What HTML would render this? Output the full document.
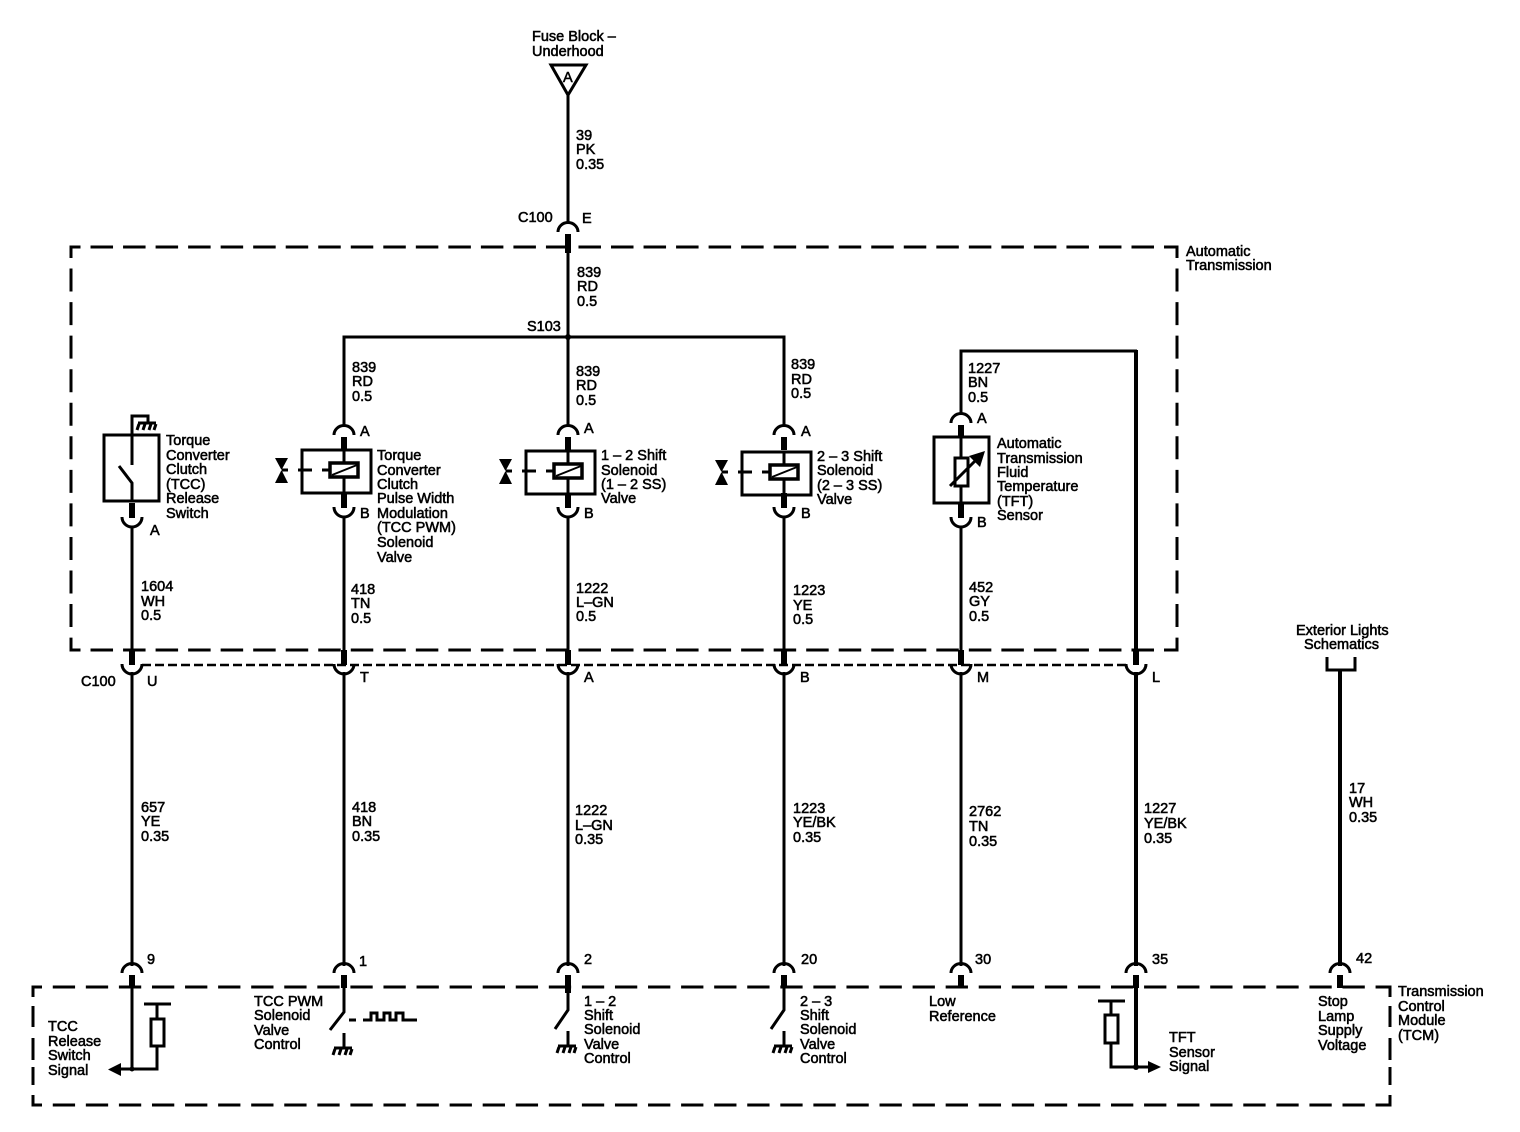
<!DOCTYPE html>
<html><head><meta charset="utf-8"><style>
html,body{margin:0;padding:0;background:#fff}
svg{display:block}
text{font-family:"Liberation Sans",sans-serif;font-size:14.5px;fill:#000;stroke:#000;stroke-width:.55}
.w{fill:none;stroke:#000;stroke-width:3}
.t{fill:none;stroke:#000;stroke-width:4}
.p{fill:none;stroke:#000;stroke-width:6}
.b{fill:none;stroke:#000;stroke-width:3}
.h{fill:none;stroke:#000;stroke-width:3;stroke-dasharray:22.5 10.03;stroke-dashoffset:11.5}
.h2{fill:none;stroke:#000;stroke-width:3;stroke-dasharray:22.3 10.77;stroke-dashoffset:11.8}
.v{fill:none;stroke:#000;stroke-width:3;stroke-dasharray:23 10.55;stroke-dashoffset:12}
</style></head><body>
<svg width="1520" height="1132" viewBox="0 0 1520 1132" xmlns="http://www.w3.org/2000/svg">
<defs>
<g id="u"><path class="w" d="M-10 9A10 9.5 0 0 1 10 9"/><path class="p" d="M0 11V24"/></g>
<g id="c"><path class="w" d="M-10 -1A10 10 0 0 0 10 -1"/><path class="p" d="M0 -15V0"/></g>
<g id="g"><path class="w" d="M-9 0H9" /><path d="M-8 1L-10 7M-2 1L-4 7M4 1L2 7M9 1L7 7" fill="none" stroke="#000" stroke-width="3"/></g>
<g id="s"><rect class="b" x="-42" y="-20" width="69" height="43"/>
<path class="w" d="M0 -20V-7M0 7V23"/>
<rect x="-14" y="-7" width="28" height="14" fill="#fff" stroke="#000" stroke-width="3.5"/><path d="M-12 5L13 -5" stroke="#000" stroke-width="2" fill="none"/>
<path class="w" d="M-46 0H-32M-22 0H-13"/><path d="M-69 -12H-56L-62.5 0L-56 13H-69L-62.5 0Z" fill="#000"/><path class="w" d="M-62 0H-56"/>
</g>
</defs>

<!-- dashed module boxes -->
<path class="h" d="M69.500 247H1178.500"/>
<path class="h" d="M69.500 650H1178.500"/>
<path class="v" d="M71 247V651.500"/>
<path class="v" d="M1177 247V651.500"/>
<path class="h2" d="M31.500 987H1391.500"/>
<path class="h2" d="M31.500 1105H1391.500"/>
<path class="w" d="M33 987V997M33 1006V1027M33 1038V1060M33 1067V1085M33 1095V1106.500"/>
<path class="w" d="M1390 987V997M1390 1006V1027M1390 1038V1060M1390 1067V1085M1390 1095V1106.500"/>
<path d="M142 665H1126" fill="none" stroke="#000" stroke-width="2.5" stroke-dasharray="9 4"/>

<!-- top feed -->
<path d="M551 65H586L568 95Z" fill="none" stroke="#000" stroke-width="3"/>
<path class="w" d="M568 95V222M568 246V337M344 425V337H784V425M568 337V425"/>
<circle cx="568" cy="337" r="3"/>
<use href="#u" x="568" y="223"/>
<path class="p" d="M568 234V253"/>

<!-- TFT loop -->
<path class="w" d="M961 414V351H1137"/>
<path class="t" d="M1136 350V655"/>

<!-- C100 lower wires -->
<path class="w" d="M132 526V653M344 517V653M568 517V653M784 517V653M961 526V653"/>
<path class="w" d="M132 672V966M344 672V966M568 672V966M784 672V966M961 672V966"/>
<path class="t" d="M1136 672V966M1340 670V966"/>
<path class="w" d="M1327 657V670H1355V657"/>

<use href="#c" x="132" y="665"/><use href="#c" x="344" y="665"/><use href="#c" x="568" y="665"/><use href="#c" x="784" y="665"/><use href="#c" x="961" y="665"/><use href="#c" x="1136" y="665"/>

<!-- TCC switch -->
<rect class="b" x="104" y="435" width="55" height="66"/>
<path class="w" d="M132 465V416H148V422"/>
<use href="#g" x="147" y="423"/>
<path class="w" d="M119 466L132 483V502"/>
<use href="#c" x="132" y="518"/>

<!-- Solenoids -->
<use href="#u" x="344" y="426"/><use href="#s" x="344" y="470"/><use href="#c" x="344" y="508"/>
<use href="#u" x="568" y="426"/><use href="#s" x="568" y="471"/><use href="#c" x="568" y="508"/>
<use href="#u" x="784" y="426"/><use href="#s" x="784" y="472"/><use href="#c" x="784" y="508"/>

<!-- TFT sensor -->
<use href="#u" x="961" y="414"/>
<rect class="b" x="934" y="437" width="55" height="66"/>
<path class="w" d="M961 437V504"/>
<rect x="955" y="458" width="13" height="28" fill="#fff" stroke="#000" stroke-width="3"/>
<path class="w" d="M950 486L978 458"/><path d="M985 451L980 467L969 456Z" fill="#000"/>
<use href="#c" x="961" y="518"/>

<!-- Bottom connectors -->
<use href="#u" x="132" y="964"/><use href="#u" x="344" y="964"/><use href="#u" x="568" y="964"/><use href="#u" x="784" y="964"/><use href="#u" x="961" y="964"/><use href="#u" x="1136" y="964"/><use href="#u" x="1340" y="964"/>

<!-- TCC release internal -->
<path class="w" d="M132 985V1069M120 1069H157V1047M157 1018V1004M144 1004H171"/>
<rect class="b" x="151" y="1019" width="13" height="27"/>
<path d="M108 1069.500L121 1063V1076Z" fill="#000"/><circle cx="132" cy="1069" r="2.5"/>

<!-- PWM driver -->
<path class="w" d="M344 985V1012L330 1030M344 1033V1047"/><use href="#g" x="343" y="1048"/>
<path class="w" d="M349 1020H356M363 1020H371V1013H377V1020H384V1013H390V1020H396V1013H403V1020H417"/>

<!-- 1-2 / 2-3 drivers -->
<path class="w" d="M568 985V1010L555 1029M568 1031V1047"/><use href="#g" x="567" y="1046"/>
<path class="p" d="M568 985V993"/>
<path class="w" d="M784 985V1010L771 1029M784 1031V1047"/><use href="#g" x="783" y="1046"/>

<!-- TFT signal -->
<path class="t" d="M1136 985V1067"/>
<path class="w" d="M1111 1043V1067H1150M1111 1015V1001M1098 1001H1125"/>
<rect class="b" x="1105" y="1015" width="13" height="28"/>
<path d="M1161 1067L1148 1061V1073Z" fill="#000"/><circle cx="1136" cy="1067" r="3"/>

<!-- Labels -->
<text x="532" y="41">Fuse Block –</text><text x="532" y="56">Underhood</text>
<text x="563" y="82">A</text>
<text x="576" y="140">39</text><text x="576" y="154">PK</text><text x="576" y="169">0.35</text>
<text x="518" y="222">C100</text><text x="582" y="223">E</text>
<text x="1186" y="256">Automatic</text><text x="1186" y="270">Transmission</text>
<text x="577" y="277">839</text><text x="577" y="291">RD</text><text x="577" y="306">0.5</text>
<text x="527" y="331">S103</text>
<text x="352" y="372">839</text><text x="352" y="386">RD</text><text x="352" y="401">0.5</text>
<text x="576" y="376">839</text><text x="576" y="390">RD</text><text x="576" y="405">0.5</text>
<text x="791" y="369">839</text><text x="791" y="384">RD</text><text x="791" y="398">0.5</text>
<text x="968" y="373">1227</text><text x="968" y="387">BN</text><text x="968" y="402">0.5</text>

<text x="360" y="436">A</text><text x="360" y="518">B</text>
<text x="584" y="433">A</text><text x="584" y="518">B</text>
<text x="801" y="436">A</text><text x="801" y="518">B</text>
<text x="977" y="423">A</text><text x="977" y="527">B</text>
<text x="150" y="535">A</text>

<text x="166" y="445">Torque</text><text x="166" y="460">Converter</text><text x="166" y="474">Clutch</text><text x="166" y="489">(TCC)</text><text x="166" y="503">Release</text><text x="166" y="518">Switch</text>
<text x="377" y="460">Torque</text><text x="377" y="475">Converter</text><text x="377" y="489">Clutch</text><text x="377" y="503">Pulse Width</text><text x="377" y="518">Modulation</text><text x="377" y="532">(TCC PWM)</text><text x="377" y="547">Solenoid</text><text x="377" y="562">Valve</text>
<text x="601" y="460">1 – 2 Shift</text><text x="601" y="475">Solenoid</text><text x="601" y="489">(1 – 2 SS)</text><text x="601" y="503">Valve</text>
<text x="817" y="461">2 – 3 Shift</text><text x="817" y="475">Solenoid</text><text x="817" y="490">(2 – 3 SS)</text><text x="817" y="504">Valve</text>
<text x="997" y="448">Automatic</text><text x="997" y="463">Transmission</text><text x="997" y="477">Fluid</text><text x="997" y="491">Temperature</text><text x="997" y="506">(TFT)</text><text x="997" y="520">Sensor</text>

<text x="141" y="591">1604</text><text x="141" y="606">WH</text><text x="141" y="620">0.5</text>
<text x="351" y="594">418</text><text x="351" y="608">TN</text><text x="351" y="623">0.5</text>
<text x="576" y="593">1222</text><text x="576" y="607">L–GN</text><text x="576" y="621">0.5</text>
<text x="793" y="595">1223</text><text x="793" y="610">YE</text><text x="793" y="624">0.5</text>
<text x="969" y="592">452</text><text x="969" y="606">GY</text><text x="969" y="621">0.5</text>

<text x="1296" y="635">Exterior Lights</text><text x="1304" y="649">Schematics</text>

<text x="81" y="686">C100</text><text x="147" y="686">U</text><text x="360" y="682">T</text><text x="584" y="682">A</text><text x="800" y="682">B</text><text x="977" y="682">M</text><text x="1152" y="682">L</text>

<text x="141" y="812">657</text><text x="141" y="826">YE</text><text x="141" y="841">0.35</text>
<text x="352" y="812">418</text><text x="352" y="826">BN</text><text x="352" y="841">0.35</text>
<text x="575" y="815">1222</text><text x="575" y="830">L–GN</text><text x="575" y="844">0.35</text>
<text x="793" y="813">1223</text><text x="793" y="827">YE/BK</text><text x="793" y="842">0.35</text>
<text x="969" y="816">2762</text><text x="969" y="831">TN</text><text x="969" y="846">0.35</text>
<text x="1144" y="813">1227</text><text x="1144" y="828">YE/BK</text><text x="1144" y="843">0.35</text>
<text x="1349" y="793">17</text><text x="1349" y="807">WH</text><text x="1349" y="822">0.35</text>

<text x="147" y="964">9</text><text x="359" y="966">1</text><text x="584" y="964">2</text><text x="801" y="964">20</text><text x="975" y="964">30</text><text x="1152" y="964">35</text><text x="1356" y="963">42</text>

<text x="1398" y="996">Transmission</text><text x="1398" y="1011">Control</text><text x="1398" y="1025">Module</text><text x="1398" y="1040">(TCM)</text>
<text x="1318" y="1006">Stop</text><text x="1318" y="1021">Lamp</text><text x="1318" y="1035">Supply</text><text x="1318" y="1050">Voltage</text>
<text x="254" y="1006">TCC PWM</text><text x="254" y="1020">Solenoid</text><text x="254" y="1035">Valve</text><text x="254" y="1049">Control</text>
<text x="584" y="1006">1 – 2</text><text x="584" y="1020">Shift</text><text x="584" y="1034">Solenoid</text><text x="584" y="1049">Valve</text><text x="584" y="1063">Control</text>
<text x="800" y="1006">2 – 3</text><text x="800" y="1020">Shift</text><text x="800" y="1034">Solenoid</text><text x="800" y="1049">Valve</text><text x="800" y="1063">Control</text>
<text x="929" y="1006">Low</text><text x="929" y="1021">Reference</text>
<text x="48" y="1031">TCC</text><text x="48" y="1046">Release</text><text x="48" y="1060">Switch</text><text x="48" y="1075">Signal</text>
<text x="1169" y="1042">TFT</text><text x="1169" y="1057">Sensor</text><text x="1169" y="1071">Signal</text>
</svg>
</body></html>
